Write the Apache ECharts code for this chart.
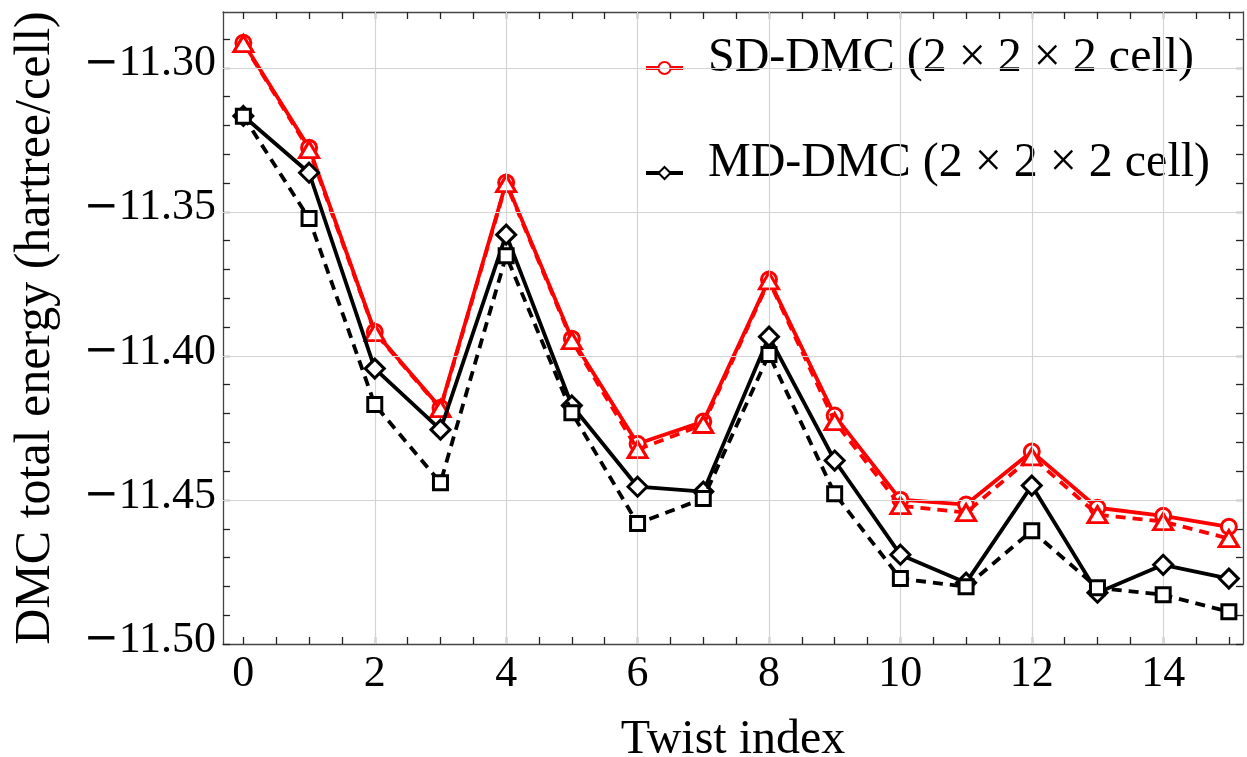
<!DOCTYPE html>
<html>
<head>
<meta charset="utf-8">
<title>DMC total energy vs twist index</title>
<script src="https://cdn.jsdelivr.net/npm/echarts@6/dist/echarts.min.js"></script>
<style>
  html, body { margin: 0; padding: 0; background: #fff; }
  #chart { width: 1247px; height: 757px; }
</style>
</head>
<body>
<div id="chart"></div>
<script>
// Twist indices
const twists = [0, 1, 2, 3, 4, 5, 6, 7, 8, 9, 10, 11, 12, 13, 14, 15];

// DMC total energies (hartree/cell)
const sdSolid = [-11.2913, -11.3277, -11.3916, -11.4180, -11.3398, -11.3940, -11.4305, -11.4228,
                 -11.3735, -11.4207, -11.4499, -11.4516, -11.4332, -11.4527, -11.4555, -11.4593];
const sdDashed = [-11.2916, -11.3284, -11.3919, -11.4183, -11.3402, -11.3947, -11.4325, -11.4238,
                  -11.3739, -11.4228, -11.4520, -11.4544, -11.4350, -11.4551, -11.4575, -11.4634];
const mdSolid = [-11.3167, -11.3364, -11.4044, -11.4256, -11.3579, -11.4172, -11.4454, -11.4471,
                 -11.3933, -11.4363, -11.4690, -11.4787, -11.4450, -11.4822, -11.4725, -11.4773];
const mdDashed = [-11.3168, -11.3523, -11.4169, -11.4440, -11.3652, -11.4197, -11.4582, -11.4495,
                  -11.3995, -11.4478, -11.4773, -11.4801, -11.4607, -11.4805, -11.4829, -11.4888];

// Axis ticks, labels and grid lines
const xLabelValues = [0, 2, 4, 6, 8, 10, 12, 14];
const xTickValues = [0, 0.5, 1, 1.5, 2, 2.5, 3, 3.5, 4, 4.5, 5, 5.5, 6, 6.5, 7, 7.5,
                     8, 8.5, 9, 9.5, 10, 10.5, 11, 11.5, 12, 12.5, 13, 13.5, 14, 14.5, 15];
const xGridValues = [2, 4, 6, 8, 10, 12, 14];
const yLabelValues = [-11.50, -11.45, -11.40, -11.35, -11.30];
const yTickValues = [-11.50, -11.49, -11.48, -11.47, -11.46, -11.45, -11.44, -11.43, -11.42, -11.41,
                     -11.40, -11.39, -11.38, -11.37, -11.36, -11.35, -11.34, -11.33, -11.32, -11.31,
                     -11.30, -11.29];
const yGridValues = [-11.45, -11.40, -11.35, -11.30];

const xRange = [-0.31, 15.215];
const yRange = [-11.50, -11.2806];

const FONT = '"Liberation Serif", "Times New Roman", serif';
const FRAME = '#444';

function pairs(ys) { return twists.map((t, i) => [t, ys[i]]); }

// One side of the plot frame: axis line plus inward ticks
function frameAxis(pos, isX, extra) {
  const base = {
    type: 'value',
    position: pos,
    min: isX ? xRange[0] : yRange[0],
    max: isX ? xRange[1] : yRange[1],
    axisLine: { show: true, onZero: false, lineStyle: { color: FRAME, width: 1.3 } },
    axisTick: { show: true, inside: true, length: 7, customValues: isX ? xTickValues : yTickValues,
                lineStyle: { color: '#222', width: 1.3 } },
    axisLabel: { show: false },
    splitLine: { show: false }
  };
  return Object.assign(base, extra || {});
}

const chart = echarts.init(document.getElementById('chart'), null, { renderer: 'canvas' });

const option = {
  backgroundColor: '#fff',
  animation: false,
  textStyle: { fontFamily: FONT },
  grid: { left: 223, right: 4, top: 12, bottom: 113, containLabel: false, outerBoundsMode: 'none' },
  xAxis: [
    frameAxis('bottom', true, {
      name: 'Twist index',
      nameLocation: 'middle',
      nameGap: 72,
      nameTextStyle: { fontFamily: FONT, fontSize: 48, color: '#000' },
      axisLabel: {
        show: true, customValues: xLabelValues, margin: 8,
        fontFamily: FONT, fontSize: 44, color: '#000'
      }
    }),
    frameAxis('top', true)
  ],
  yAxis: [
    frameAxis('left', false, {
      name: 'DMC total energy (hartree/cell)',
      nameLocation: 'middle',
      nameGap: 162,
      nameTextStyle: { fontFamily: FONT, fontSize: 50, color: '#000' },
      axisLabel: {
        show: true, customValues: yLabelValues, margin: 7,
        color: '#000',
        formatter: v => '{m|\u2212}{n|' + Math.abs(v).toFixed(2) + '}',
        rich: {
          m: { fontFamily: '"DejaVu Sans", sans-serif', fontSize: 42, color: '#000', padding: [0, 0, 8, 0] },
          n: { fontFamily: FONT, fontSize: 44, color: '#000', padding: [0, 0, 8, 0] }
        }
      }
    }),
    frameAxis('right', false)
  ],
  legend: {
    data: ['SD-DMC (2 × 2 × 2 cell)', 'MD-DMC (2 × 2 × 2 cell)'],
    orient: 'vertical',
    left: 639,
    top: 29,
    itemWidth: 37,
    itemHeight: 15,
    itemGap: 37,
    selectedMode: false,
    lineStyle: { width: 4 },
    formatter: name => '{a|' + name + '}',
    textStyle: {
      fontFamily: FONT, fontSize: 48, color: '#000',
      rich: {
        a: { fontFamily: FONT, fontSize: 48, color: '#000', lineHeight: 48, padding: [0, 0, 20, 20] }
      }
    }
  },
  series: [
    {
      // grid lines at the major ticks
      name: 'grid',
      type: 'line',
      data: [],
      silent: true,
      z: 1,
      markLine: {
        silent: true,
        symbol: 'none',
        animation: false,
        label: { show: false },
        lineStyle: { color: '#d4d4d4', width: 1.2, type: 'solid' },
        data: xGridValues.map(v => ({ xAxis: v })).concat(yGridValues.map(v => ({ yAxis: v })))
      }
    },
    {
      name: 'SD-DMC (2 × 2 × 2 cell)',
      type: 'line',
      data: pairs(sdSolid),
      symbol: 'circle', symbolSize: 15,
      itemStyle: { color: '#fff', borderColor: '#ff0000', borderWidth: 3 },
      lineStyle: { color: '#ff0000', width: 3.8 },
      z: 3
    },
    {
      name: 'SD-DMC dashed',
      type: 'line',
      data: pairs(sdDashed),
      symbol: 'triangle', symbolSize: [19, 16],
      itemStyle: { color: '#fff', borderColor: '#ff0000', borderWidth: 3 },
      lineStyle: { color: '#ff0000', width: 3.8, type: [10, 7] },
      z: 4
    },
    {
      name: 'MD-DMC (2 × 2 × 2 cell)',
      type: 'line',
      data: pairs(mdSolid),
      symbol: 'diamond', symbolSize: [19, 19],
      itemStyle: { color: '#fff', borderColor: '#000', borderWidth: 3 },
      lineStyle: { color: '#000', width: 3.8 },
      z: 5
    },
    {
      name: 'MD-DMC dashed',
      type: 'line',
      data: pairs(mdDashed),
      symbol: 'rect', symbolSize: 14,
      itemStyle: { color: '#fff', borderColor: '#000', borderWidth: 3 },
      lineStyle: { color: '#000', width: 3.8, type: [10, 7] },
      z: 6
    }
  ]
};

chart.setOption(option);
</script>
</body>
</html>
